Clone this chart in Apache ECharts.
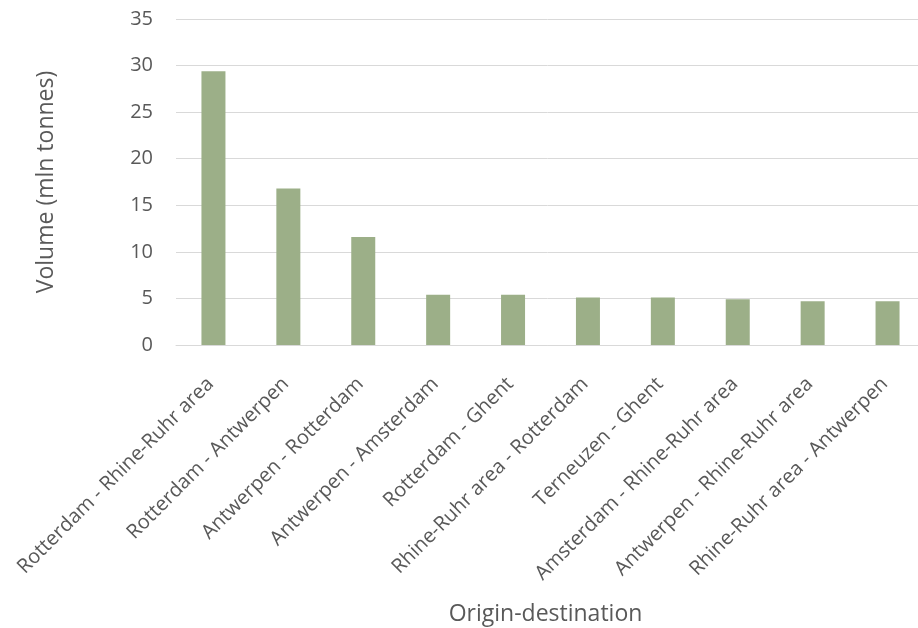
<!DOCTYPE html>
<html>
<head>
<meta charset="utf-8">
<script src="https://cdn.jsdelivr.net/npm/echarts@6/dist/echarts.min.js"></script>
<style>
html,body{margin:0;padding:0;background:#fff;}
#chart{width:918px;height:628px;}
</style>
</head>
<body>
<div id="chart"></div>
<script>
const categories = [
  "Rotterdam - Rhine-Ruhr area",
  "Rotterdam - Antwerpen",
  "Antwerpen - Rotterdam",
  "Antwerpen - Amsterdam",
  "Rotterdam - Ghent",
  "Rhine-Ruhr area - Rotterdam",
  "Terneuzen - Ghent",
  "Amsterdam - Rhine-Ruhr area",
  "Antwerpen - Rhine-Ruhr area",
  "Rhine-Ruhr area - Antwerpen"
];
const volumes = [29.4, 16.8, 11.6, 5.4, 5.4, 5.1, 5.1, 4.9, 4.7, 4.7];
const yTicks = { min: 0, max: 35, interval: 5 };

const FONT = "Open Sans";
const TXT = "#595959";
const chart = echarts.init(document.getElementById('chart'), null, {renderer: 'canvas'});
chart.setOption({
  animation: false,
  textStyle: { fontFamily: FONT },
  grid: { left: 176, right: -7, top: 19, bottom: 283, containLabel: false, outerBoundsMode: 'none' },
  xAxis: {
    type: 'category',
    data: categories,
    name: 'Origin-destination',
    nameLocation: 'middle',
    nameGap: 258,
    nameTextStyle: { fontFamily: FONT, fontSize: 23, color: TXT, padding: [0, 10, 0, 0] },
    axisLine: { show: true, lineStyle: { color: '#d9d9d9', width: 1 } },
    axisTick: { show: false },
    axisLabel: { interval: 0, rotate: 45, margin: 33, fontFamily: FONT, fontSize: 20, color: TXT, padding: [0, 4, 0, 0] },
  },
  yAxis: {
    type: 'value',
    min: yTicks.min, max: yTicks.max, interval: yTicks.interval,
    name: 'Volume (mln tonnes)',
    nameLocation: 'middle',
    nameGap: 118,
    nameRotate: 90,
    nameTextStyle: { fontFamily: FONT, fontSize: 23, color: TXT },
    axisLine: { show: false },
    axisTick: { show: false },
    axisLabel: { margin: 23, fontFamily: FONT, fontSize: 20, color: TXT },
    splitLine: { lineStyle: { color: '#d9d9d9', width: 1 } }
  },
  series: [{
    type: 'bar',
    data: volumes,
    barWidth: 24,
    itemStyle: { color: '#9caf88' }
  }]
});
</script>
</body>
</html>
